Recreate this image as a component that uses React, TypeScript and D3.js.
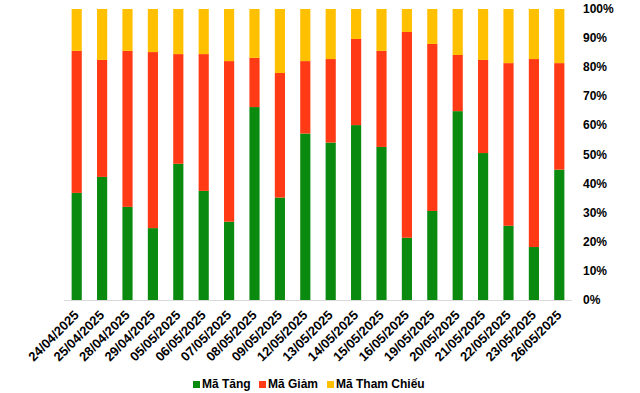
import { useEffect, useRef } from 'react';
import * as d3 from 'd3';

const dates = [
  '24/04/2025', '25/04/2025', '28/04/2025', '29/04/2025', '05/05/2025',
  '06/05/2025', '07/05/2025', '08/05/2025', '09/05/2025', '12/05/2025',
  '13/05/2025', '14/05/2025', '15/05/2025', '16/05/2025', '19/05/2025',
  '20/05/2025', '21/05/2025', '22/05/2025', '23/05/2025', '26/05/2025',
];
const maTang = [36.8, 42.3, 32.0, 24.7, 46.8, 37.5, 26.9, 66.3, 35.2, 57.2, 54.1, 60.1, 52.6, 21.4, 30.6, 64.9, 50.5, 25.5, 18.2, 44.8];
const maGiam = [48.8, 40.2, 53.6, 60.5, 37.7, 47.0, 55.2, 16.9, 42.8, 24.9, 28.7, 29.6, 33.0, 70.7, 57.4, 19.3, 32.0, 55.9, 64.6, 36.6];
const maThamChieu = [14.4, 17.5, 14.4, 14.8, 15.5, 15.5, 17.9, 16.8, 22.0, 17.9, 17.2, 10.3, 14.4, 7.9, 12.0, 15.8, 17.5, 18.6, 17.2, 18.6];
const seriesNames = ['Mã Tăng', 'Mã Giảm', 'Mã Tham Chiếu'];
const colors = ['#0B8A10', '#FF3A14', '#FFC000'];
const yTicks = [0, 10, 20, 30, 40, 50, 60, 70, 80, 90, 100];

export default function App() {
  const svgRef = useRef<SVGSVGElement>(null);

  useEffect(() => {
    const svg = d3.select(svgRef.current);
    svg.selectAll('*').remove();

    const left = 64, right = 572, top = 9, bottom = 300;
    const font = '"Liberation Sans", Arial, sans-serif';

    const rows = dates.map((d, i) => ({ date: d, s0: maTang[i], s1: maGiam[i], s2: maThamChieu[i] }));
    const stack = d3.stack<any>().keys(['s0', 's1', 's2'])(rows);

    // excel-like gap width: bar is 40% of the category step
    const x = d3.scaleBand().domain(dates).range([left, right]).paddingInner(0.6).paddingOuter(0.3);
    const y = d3.scaleLinear().domain([0, 100]).range([bottom, top]);

    stack.forEach((layer, k) => {
      svg.append('g')
        .selectAll('rect')
        .data(layer)
        .enter()
        .append('rect')
        .attr('x', d => x(d.data.date)!)
        .attr('width', x.bandwidth())
        .attr('y', d => y(d[1]))
        .attr('height', d => y(d[0]) - y(d[1]))
        .attr('fill', colors[k]);
    });

    // baseline
    svg.append('line')
      .attr('x1', left).attr('x2', right)
      .attr('y1', bottom + 0.5).attr('y2', bottom + 0.5)
      .attr('stroke', '#d9d9d9');

    // right axis labels
    svg.append('g')
      .selectAll('text')
      .data(yTicks)
      .enter()
      .append('text')
      .attr('x', 583)
      .attr('y', d => y(d) + 4)
      .attr('font-family', font)
      .attr('font-size', 12)
      .attr('font-weight', 'bold')
      .attr('fill', '#000')
      .text(d => d + '%');

    // x labels
    svg.append('g')
      .selectAll('text')
      .data(dates)
      .enter()
      .append('text')
      .attr('transform', d => `translate(${x(d)! + x.bandwidth() / 2 + 3},${bottom + 16}) rotate(-45)`)
      .attr('text-anchor', 'end')
      .attr('font-family', font)
      .attr('font-size', 13)
      .attr('font-weight', 'bold')
      .attr('fill', '#000')
      .text(d => d);

    // legend
    const legendX = [193, 259, 327];
    const lg = svg.append('g');
    seriesNames.forEach((name, i) => {
      lg.append('rect')
        .attr('x', legendX[i]).attr('y', 381)
        .attr('width', 7).attr('height', 7)
        .attr('fill', colors[i]);
      lg.append('text')
        .attr('x', legendX[i] + 9).attr('y', 388)
        .attr('font-family', font)
        .attr('font-size', 12)
        .attr('font-weight', 'bold')
        .attr('fill', '#000')
        .text(name);
    });
  }, []);

  return (
    <svg ref={svgRef} width={640} height={393} style={{ position: 'absolute', left: 0, top: 0, background: '#fff' }} />
  );
}
